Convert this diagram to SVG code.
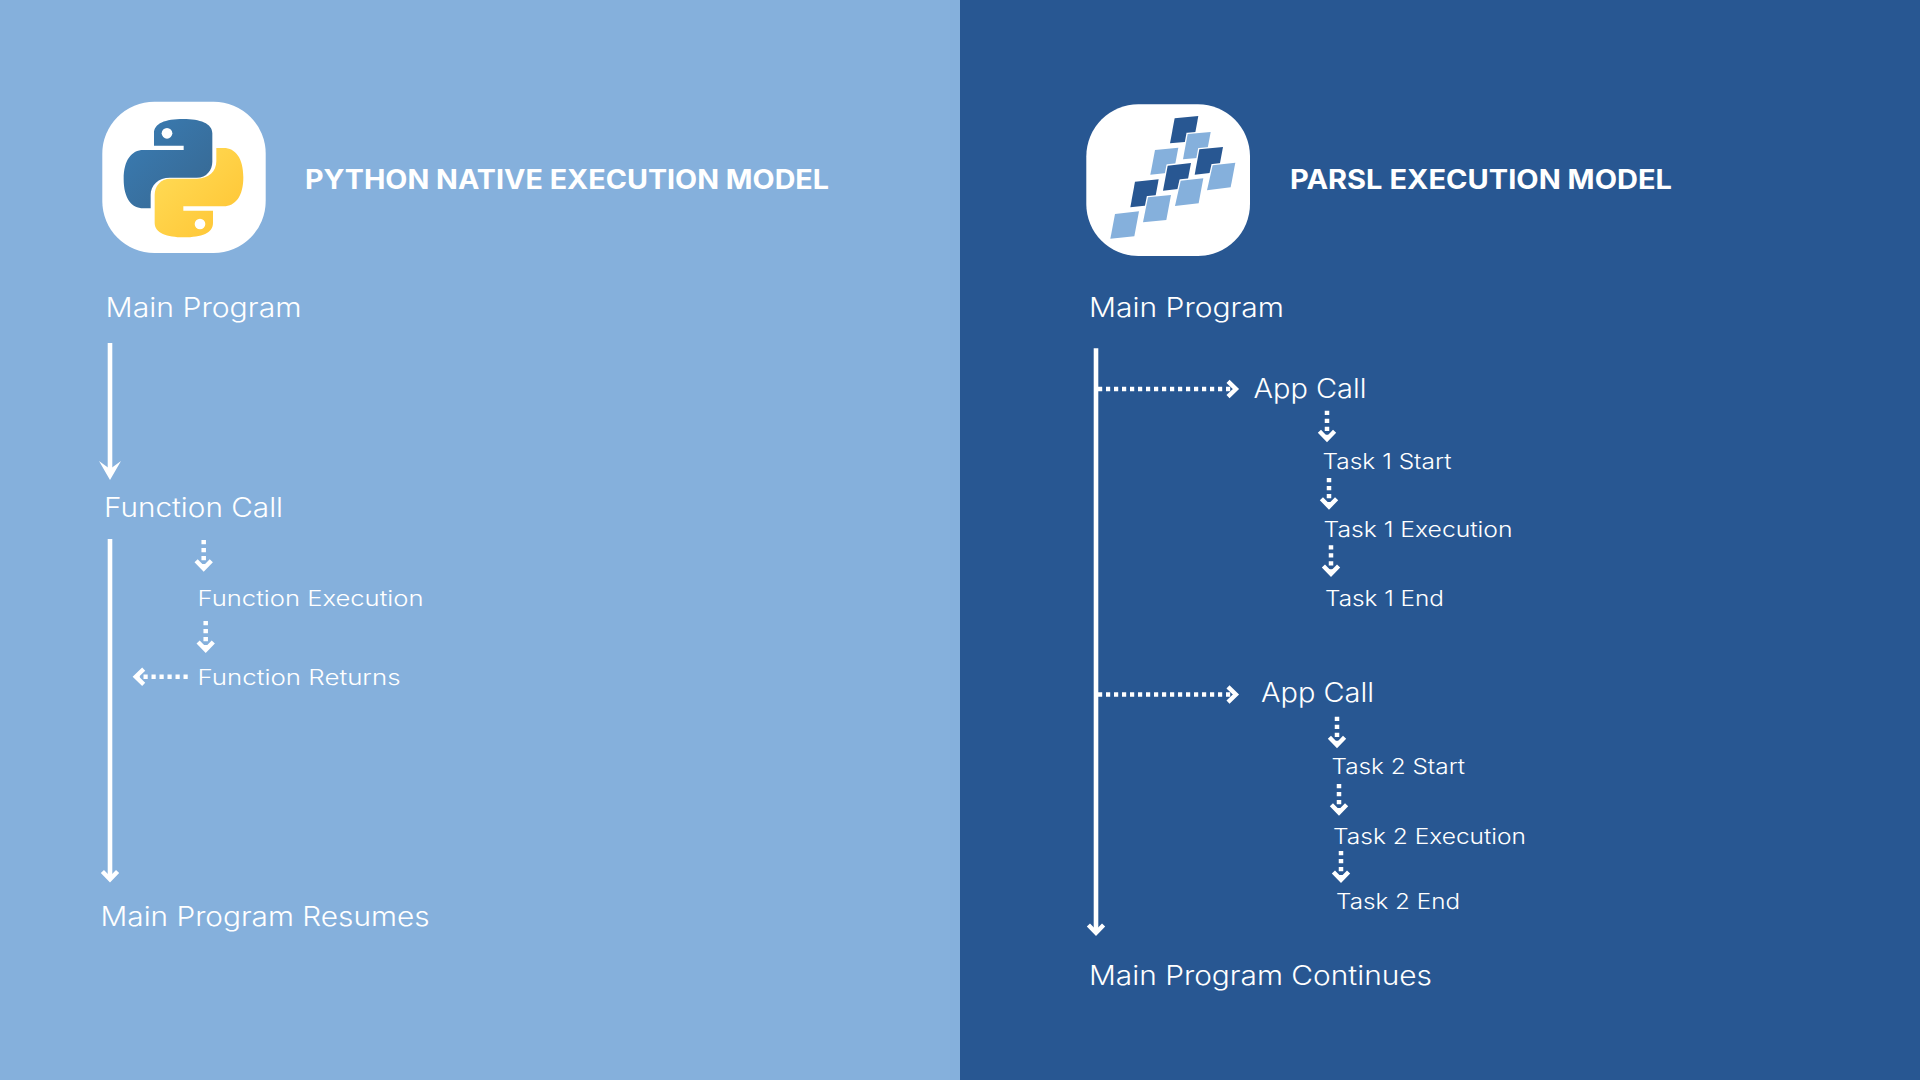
<svg xmlns="http://www.w3.org/2000/svg" width="1920" height="1080" viewBox="0 0 1920 1080">
<style>
text{font-family:"Inter","Open Sans","Liberation Sans",sans-serif;fill:#fff;font-weight:350}
.lg{font-size:26.5px}
.sm{font-size:21px}
.hd{font-size:26.5px;font-weight:700}
.solid{stroke:#fff;stroke-width:4.6;fill:none}
.dot{stroke:#fff;stroke-width:4.5;stroke-dasharray:4.2 3.8;fill:none}
.chev{stroke:#fff;stroke-width:4.4;fill:none;stroke-linejoin:miter}
.dk{fill:#285792;stroke:#fff;stroke-width:8;paint-order:stroke}
.lt{fill:#85B0DC;stroke:#fff;stroke-width:8;paint-order:stroke}
</style>
<defs>
<linearGradient id="pyB" x1="0" y1="0" x2="1" y2="1"><stop offset="0" stop-color="#3A7DB5"/><stop offset="1" stop-color="#376790"/></linearGradient>
<linearGradient id="pyY" x1="0" y1="0" x2="1" y2="1"><stop offset="0" stop-color="#FFC331"/><stop offset="1" stop-color="#FFDE5A"/></linearGradient>
<path id="down" class="chev" d="M-7.6 -11 L0 -3.1 L7.6 -11"/>
</defs>
<rect id="left-panel" x="0" y="0" width="960" height="1080" fill="#85B0DC"/>
<rect id="right-panel" x="960" y="0" width="960" height="1080" fill="#285792"/>

<g id="python-logo">
<rect x="102.3" y="101.7" width="163.4" height="151.3" rx="52" ry="52" fill="#fff"/>
<g transform="translate(80 80) scale(0.33333)">
<path fill="url(#pyB)" d="M310 117C255 117 222 130 222 160V197H311V210H190C155 210 131 240 131 297C131 355 155 385 190 385H212V345C212 315 235 293 270 293H350C380 293 397 270 397 245V160C397 130 360 117 310 117Z"/>
<path fill="url(#pyY)" transform="rotate(180 310.5 294.5)" d="M310 117C255 117 222 130 222 160V197H311V210H190C155 210 131 240 131 297C131 355 155 385 190 385H212V345C212 315 235 293 270 293H350C380 293 397 270 397 245V160C397 130 360 117 310 117Z"/>
<circle cx="261" cy="160" r="16" fill="#fff"/>
<circle cx="360" cy="432" r="16" fill="#fff"/>
</g>
</g>

<g id="parsl-logo">
<rect x="1086.3" y="104.3" width="163.7" height="151.7" rx="52" ry="52" fill="#fff"/>
<g transform="translate(1105 110) scale(0.33333)">
<polygon class="dk" points="209,25 280,18 266,94 195,100"/>
<polygon class="lt" points="248,72 317,66 303,142 234,148"/>
<polygon class="dk" points="283,118 354,111 340,186 269,194"/>
<polygon class="lt" points="150,120 220,113 206,187 136,194"/>
<polygon class="lt" points="323,166 391,158 377,232 306,241"/>
<polygon class="dk" points="188,167 258,159 244,234 174,242"/>
<polygon class="lt" points="227,212 295,205 281,280 210,288"/>
<polygon class="dk" points="90,215 161,208 147,284 76,292"/>
<polygon class="lt" points="129,262 198,255 184,330 114,337"/>
<polygon class="lt" points="30,312 102,304 88,379 16,386"/>
</g>
</g>

<g id="connectors">
<line class="solid" x1="110" y1="343" x2="110" y2="472"/>
<polygon fill="#fff" points="110,480 99,461 110,469 121,461"/>
<line class="solid" x1="110" y1="539" x2="110" y2="878"/>
<use href="#down" transform="translate(110 882.5)"/>
<line class="dot" x1="203.7" y1="540" x2="203.7" y2="566"/>
<use href="#down" transform="translate(203.7 571.7)"/>
<line class="dot" x1="205.7" y1="621" x2="205.7" y2="647"/>
<use href="#down" transform="translate(205.7 653)"/>
<line class="dot" x1="187.7" y1="676.7" x2="138" y2="676.7"/>
<use href="#down" transform="translate(132.7 676.7) rotate(90)"/>

<line class="solid" x1="1096" y1="348.3" x2="1096" y2="932"/>
<use href="#down" transform="translate(1096 936)"/>
<line class="dot" x1="1098" y1="389" x2="1234" y2="389"/>
<use href="#down" transform="translate(1239 389) rotate(-90)"/>
<line class="dot" x1="1327" y1="410.7" x2="1327" y2="437"/>
<use href="#down" transform="translate(1327 442.3)"/>
<line class="dot" x1="1329" y1="478" x2="1329" y2="504"/>
<use href="#down" transform="translate(1329 509.7)"/>
<line class="dot" x1="1331" y1="545.3" x2="1331" y2="571"/>
<use href="#down" transform="translate(1331 577)"/>
<line class="dot" x1="1098" y1="694.5" x2="1234" y2="694.5"/>
<use href="#down" transform="translate(1239 694.5) rotate(-90)"/>
<line class="dot" x1="1337" y1="716.7" x2="1337" y2="743"/>
<use href="#down" transform="translate(1337 748.3)"/>
<line class="dot" x1="1339" y1="784" x2="1339" y2="810"/>
<use href="#down" transform="translate(1339 815.7)"/>
<line class="dot" x1="1341" y1="851" x2="1341" y2="877"/>
<use href="#down" transform="translate(1341 883)"/>
</g>

<g id="title-python"><text class="hd" x="305" y="188.8" textLength="524" lengthAdjust="spacingAndGlyphs">PYTHON NATIVE EXECUTION MODEL</text></g>
<g id="title-parsl"><text class="hd" x="1290" y="188.8" textLength="382" lengthAdjust="spacingAndGlyphs">PARSL EXECUTION MODEL</text></g>

<g id="py-main"><text class="lg" x="105.5" y="316.9" textLength="196" lengthAdjust="spacingAndGlyphs">Main Program</text></g>
<g id="py-call"><text class="lg" x="104" y="517" textLength="179" lengthAdjust="spacingAndGlyphs">Function Call</text></g>
<g id="py-exec"><text class="sm" x="197.5" y="606.2" textLength="226" lengthAdjust="spacingAndGlyphs">Function Execution</text></g>
<g id="py-ret"><text class="sm" x="197.5" y="685.2" textLength="203" lengthAdjust="spacingAndGlyphs">Function Returns</text></g>
<g id="py-resume"><text class="lg" x="100.5" y="926.2" textLength="329" lengthAdjust="spacingAndGlyphs">Main Program Resumes</text></g>

<g id="pa-main"><text class="lg" x="1089" y="316.9" textLength="195" lengthAdjust="spacingAndGlyphs">Main Program</text></g>
<g id="pa-app1"><text class="lg" x="1253.5" y="398" textLength="113" lengthAdjust="spacingAndGlyphs">App Call</text></g>
<g id="pa-t1s"><text class="sm" x="1322.5" y="468.7" textLength="129" lengthAdjust="spacingAndGlyphs">Task 1 Start</text></g>
<g id="pa-t1x"><text class="sm" x="1323.5" y="536.7" textLength="189" lengthAdjust="spacingAndGlyphs">Task 1 Execution</text></g>
<g id="pa-t1e"><text class="sm" x="1325" y="605.7" textLength="119" lengthAdjust="spacingAndGlyphs">Task 1 End</text></g>
<g id="pa-app2"><text class="lg" x="1261" y="702.2" textLength="113" lengthAdjust="spacingAndGlyphs">App Call</text></g>
<g id="pa-t2s"><text class="sm" x="1331.5" y="774" textLength="133.5" lengthAdjust="spacingAndGlyphs">Task 2 Start</text></g>
<g id="pa-t2x"><text class="sm" x="1333" y="844" textLength="193" lengthAdjust="spacingAndGlyphs">Task 2 Execution</text></g>
<g id="pa-t2e"><text class="sm" x="1336" y="908.7" textLength="124" lengthAdjust="spacingAndGlyphs">Task 2 End</text></g>
<g id="pa-cont"><text class="lg" x="1089" y="985.3" textLength="343" lengthAdjust="spacingAndGlyphs">Main Program Continues</text></g>
</svg>
